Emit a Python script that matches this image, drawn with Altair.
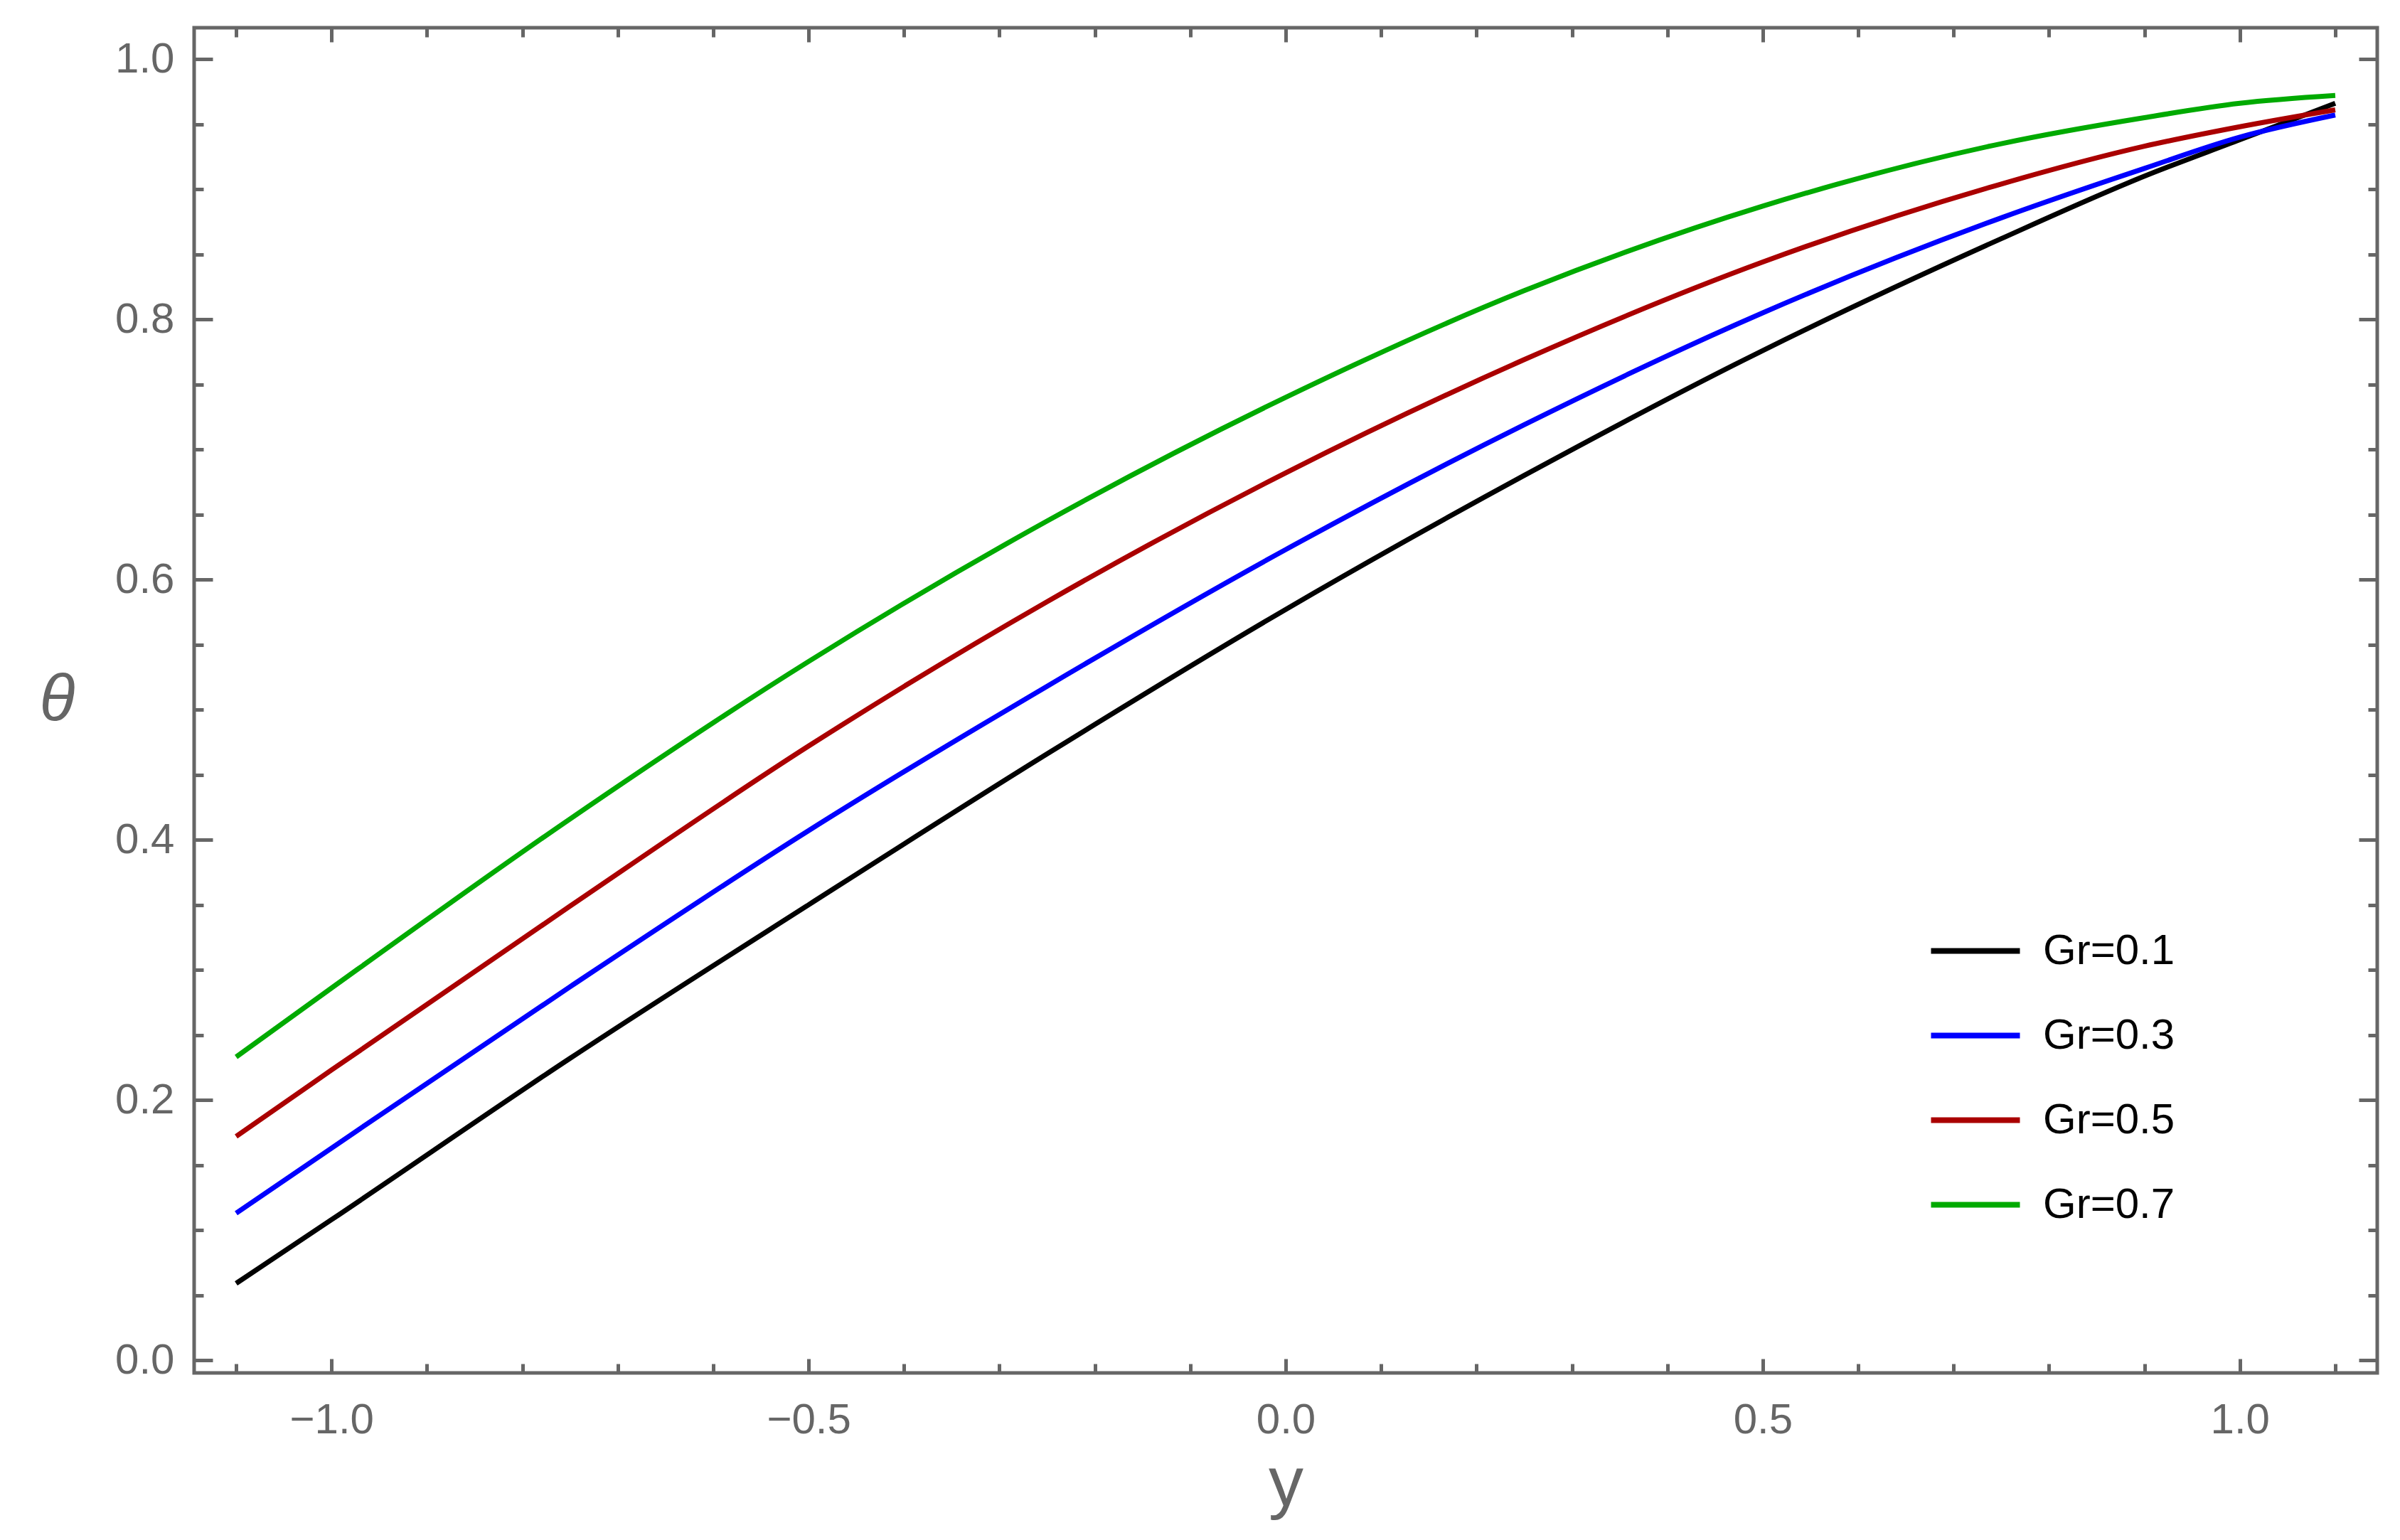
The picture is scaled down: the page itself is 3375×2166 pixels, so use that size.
import altair as alt
import pandas as pd

# ---- data ----
y_positions = [-1.1, -1.0, -0.75, -0.5, -0.25, 0.0, 0.25, 0.5, 0.75, 0.9, 1.0, 1.1]
series_names = ["Gr=0.1", "Gr=0.3", "Gr=0.5", "Gr=0.7"]
theta_gr01 = [0.059, 0.108, 0.232, 0.350, 0.466, 0.577, 0.680, 0.776, 0.862, 0.910, 0.938, 0.966]
theta_gr03 = [0.113, 0.163, 0.287, 0.407, 0.518, 0.623, 0.719, 0.805, 0.878, 0.916, 0.940, 0.957]
theta_gr05 = [0.172, 0.223, 0.349, 0.472, 0.583, 0.682, 0.769, 0.844, 0.904, 0.933, 0.948, 0.961]
theta_gr07 = [0.233, 0.286, 0.416, 0.537, 0.645, 0.740, 0.822, 0.887, 0.935, 0.955, 0.966, 0.972]
series_colors = ["#000000", "#0000ff", "#aa0000", "#00aa00"]

x_major = [-1.0, -0.5, 0.0, 0.5, 1.0]
x_minor = [-1.1, -0.9, -0.8, -0.7, -0.6, -0.4, -0.3, -0.2, -0.1,
           0.1, 0.2, 0.3, 0.4, 0.6, 0.7, 0.8, 0.9, 1.1]
y_major = [0.0, 0.2, 0.4, 0.6, 0.8, 1.0]
y_minor = [0.05, 0.1, 0.15, 0.25, 0.3, 0.35, 0.45, 0.5, 0.55,
           0.65, 0.7, 0.75, 0.85, 0.9, 0.95]

all_series = [theta_gr01, theta_gr03, theta_gr05, theta_gr07]
rows = []
for name, vals in zip(series_names, all_series):
    for yp, th in zip(y_positions, vals):
        rows.append({"ypos": yp, "theta": th, "series": name})
df = pd.DataFrame(rows)

W, H = 3070, 1892
GRAY = "#666666"

x_scale = alt.Scale(domain=[-1.144, 1.144], nice=False, zero=False)
y_scale = alt.Scale(domain=[-0.0098, 1.0241], nice=False, zero=False)

base = alt.Chart(df)

lines = base.mark_line(strokeWidth=7, interpolate="monotone", clip=True).encode(
    x=alt.X("ypos:Q", scale=x_scale,
            axis=alt.Axis(orient="bottom", values=x_major, format=".1f",
                          ticks=False, tickSize=0, domain=False, grid=False,
                          labelPadding=37, labelFontSize=60, labelColor=GRAY,
                          labelFont="Liberation Sans",
                          title="y", titleFont="Liberation Sans",
                          titleFontSize=98,
                          titleFontWeight="normal", titleColor=GRAY,
                          titleX=W / 2, titleY=186, titleAlign="center",
                          titleBaseline="alphabetic")),
    y=alt.Y("theta:Q", scale=y_scale,
            axis=alt.Axis(orient="left", values=y_major, format=".1f",
                          ticks=False, tickSize=0, domain=False, grid=False,
                          labelPadding=28, labelFontSize=60, labelColor=GRAY,
                          labelFont="Liberation Sans",
                          title="θ", titleFont="Liberation Sans",
                          titleFontStyle="italic", titleFontSize=92,
                          titleFontWeight="normal", titleColor=GRAY,
                          titleAngle=0, titleX=-193, titleY=973,
                          titleAlign="center", titleBaseline="alphabetic")),
    color=alt.Color("series:N",
                    scale=alt.Scale(domain=series_names, range=series_colors),
                    legend=alt.Legend(orient="none", legendX=2438.5, legendY=1239,
                                      title=None, symbolType="stroke",
                                      symbolSize=15625, symbolStrokeWidth=8,
                                      clipHeight=119, rowPadding=0,
                                      labelOffset=28.5, labelFontSize=60,
                                      labelFont="Liberation Sans",
                                      labelColor="#000000", labelLimit=500,
                                      padding=0)),
)


def tick_layer(x_orient, y_orient, x_offset, y_offset, xvals, yvals, xsize, ysize):
    return base.mark_point(opacity=0).encode(
        x=alt.X("ypos:Q", scale=x_scale,
                axis=alt.Axis(orient=x_orient, offset=x_offset, values=xvals,
                              labels=False, domain=False, grid=False, ticks=True,
                              tickSize=xsize, tickWidth=5, tickColor=GRAY,
                              title=None)),
        y=alt.Y("theta:Q", scale=y_scale,
                axis=alt.Axis(orient=y_orient, offset=y_offset, values=yvals,
                              labels=False, domain=False, grid=False, ticks=True,
                              tickSize=ysize, tickWidth=5, tickColor=GRAY,
                              title=None)),
    )


# inward ticks on bottom and left edges
t1 = tick_layer("top", "right", -H, -W, x_major, y_major, 20, 26)
t2 = tick_layer("top", "right", -H, -W, x_minor, y_minor, 13, 13)
# inward ticks on top and right edges
t3 = tick_layer("bottom", "left", -H, -W, x_major, y_major, 20, 26)
t4 = tick_layer("bottom", "left", -H, -W, x_minor, y_minor, 13, 13)

chart = alt.layer(lines, t1, t2, t3, t4).resolve_axis(
    x="independent", y="independent"
).properties(
    width=W, height=H,
    autosize=alt.AutoSizeParams(type="none"),
    padding={"left": 265, "top": 31, "right": 20, "bottom": 220},
    background="white",
).configure_view(stroke=GRAY, strokeWidth=5)

chart.save("out.html", embed_options={"renderer": "svg", "actions": False})
